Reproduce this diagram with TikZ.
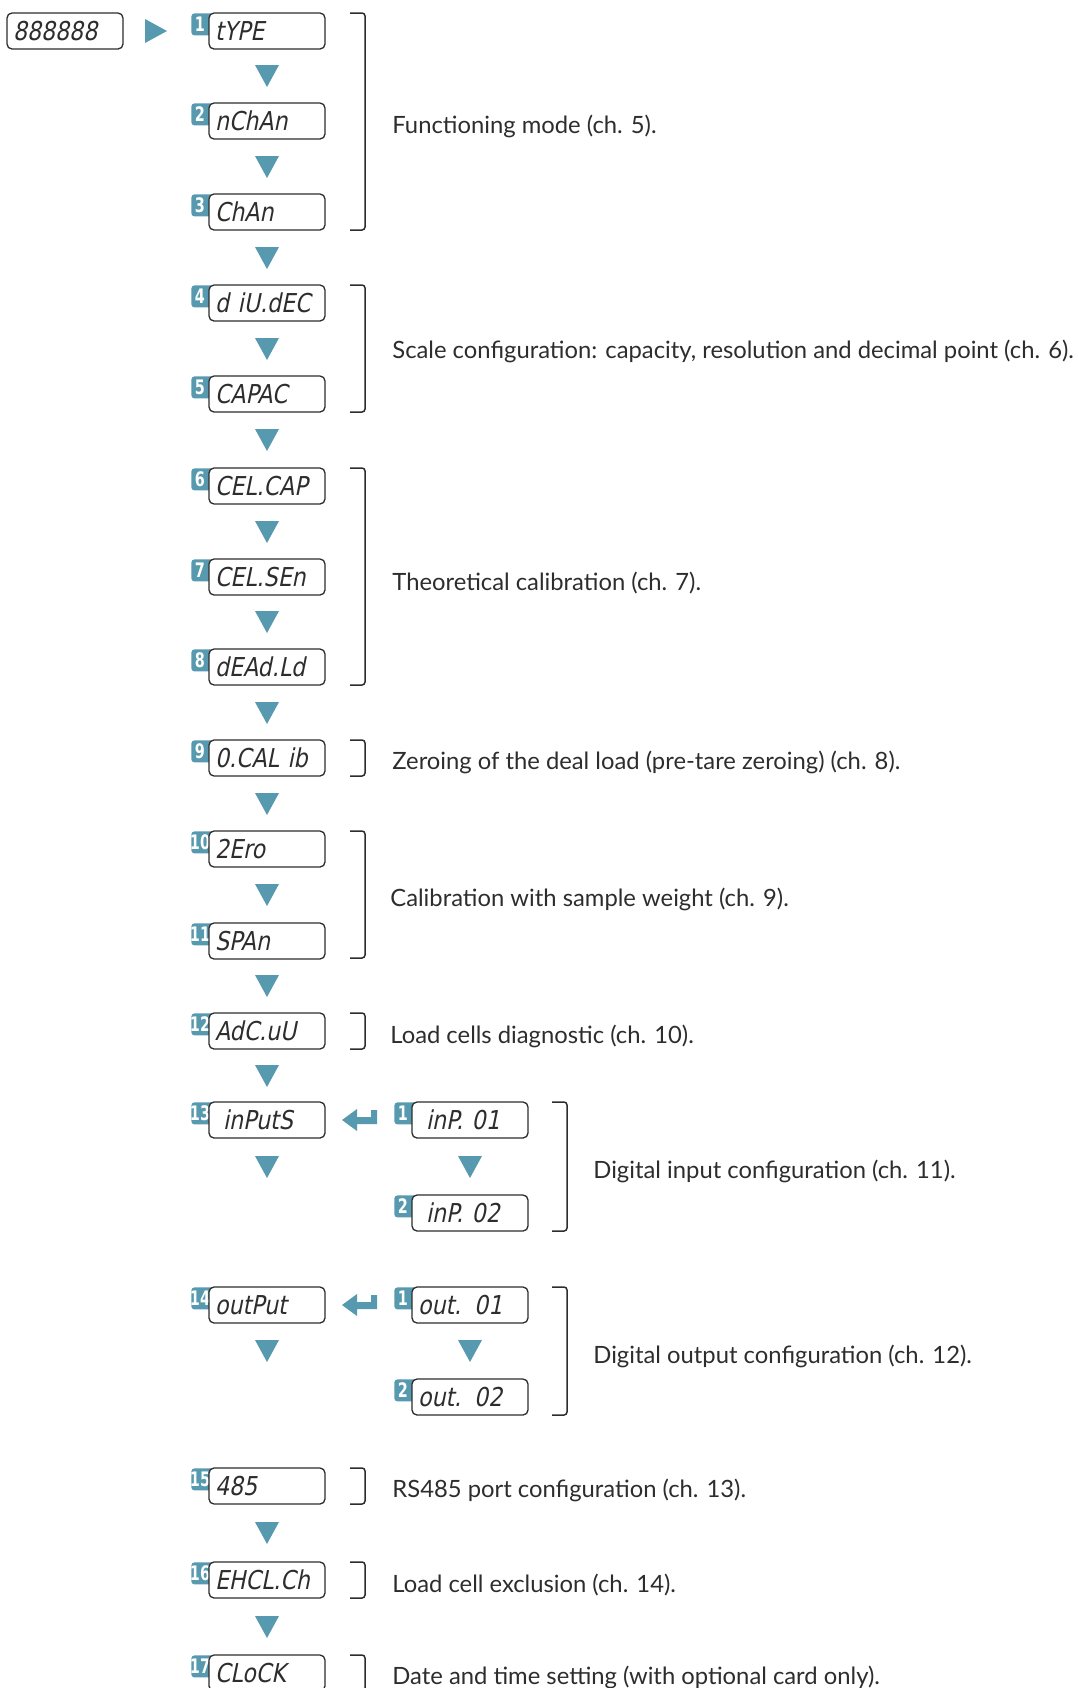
\documentclass[tikz,border=0pt]{standalone}
\usepackage{fontspec}
\setmainfont{Lato}
\newfontfamily\lcdfont[FakeSlant=0.2,FakeStretch=0.85]{DejaVu Sans}
\newfontfamily\tagfont[FakeStretch=0.72]{DejaVu Sans}
\usetikzlibrary{positioning}

\definecolor{lcdblue}{RGB}{87,154,176}
\definecolor{inkgray}{RGB}{45,45,45}

\begin{document}
\begin{tikzpicture}[x=0.5pt,y=0.5pt,yscale=-1,
  lcd/.style={draw=inkgray,line width=0.65pt,rounded corners=2.5pt,fill=white,minimum height=18pt,text width=52pt,inner xsep=3pt,inner ysep=2pt,text height=9.5pt,text depth=0pt,align=left,text=inkgray,font=\lcdfont\fontsize{13}{13}\selectfont},
  tag/.style={fill=lcdblue,rounded corners=1.5pt,minimum width=11pt,minimum height=11pt,inner sep=0pt,anchor=north west},
  tagnum/.style={text=white,inner sep=0pt,font=\tagfont\bfseries\fontsize{10}{10}\selectfont},
  tri/.style={fill=lcdblue},
  bracket/.style={draw=inkgray,line width=0.75pt,rounded corners=1.5pt},
  note/.style={anchor=base west,inner sep=0pt,text=inkgray,font=\fontsize{11.9}{12}\selectfont}]
\useasboundingbox (0,0) rectangle (1078,1688);

% Display
\node[lcd] (b0) at (65,31) {888888};
\fill[tri] (145,19) -- (167,31) -- (145,43) -- cycle;

% Step 1
\node[tag] (g1) at (191,13) {};
\node[tagnum] (k1) at (200,24) {1};
\node[lcd] (b1) at (267,31) {tYPE};
\fill[tri] (255,65) -- (279,65) -- (267,87) -- cycle;
% Step 2
\node[tag] (g2) at (191,103) {};
\node[tagnum] (k2) at (200,114) {2};
\node[lcd] (b2) at (267,121) {nChAn};
\fill[tri] (255,156) -- (279,156) -- (267,178) -- cycle;
% Step 3
\node[tag] (g3) at (191,194) {};
\node[tagnum] (k3) at (200,205) {3};
\node[lcd] (b3) at (267,212) {ChAn};
\fill[tri] (255,247) -- (279,247) -- (267,269) -- cycle;
% Step 4
\node[tag] (g4) at (191,285) {};
\node[tagnum] (k4) at (200,296) {4};
\node[lcd] (b4) at (267,303) {d iU.dEC};
\fill[tri] (255,338) -- (279,338) -- (267,360) -- cycle;
% Step 5
\node[tag] (g5) at (191,376) {};
\node[tagnum] (k5) at (200,387) {5};
\node[lcd] (b5) at (267,394) {CAPAC};
\fill[tri] (255,429) -- (279,429) -- (267,451) -- cycle;
% Step 6
\node[tag] (g6) at (191,468) {};
\node[tagnum] (k6) at (200,479) {6};
\node[lcd] (b6) at (267,486) {CEL.CAP};
\fill[tri] (255,521) -- (279,521) -- (267,543) -- cycle;
% Step 7
\node[tag] (g7) at (191,559) {};
\node[tagnum] (k7) at (200,570) {7};
\node[lcd] (b7) at (267,577) {CEL.SEn};
\fill[tri] (255,611) -- (279,611) -- (267,633) -- cycle;
% Step 8
\node[tag] (g8) at (191,649) {};
\node[tagnum] (k8) at (200,660) {8};
\node[lcd] (b8) at (267,667) {dEAd.Ld};
\fill[tri] (255,702) -- (279,702) -- (267,724) -- cycle;
% Step 9
\node[tag] (g9) at (191,740) {};
\node[tagnum] (k9) at (200,751) {9};
\node[lcd] (b9) at (267,758) {0.CAL ib};
\fill[tri] (255,793) -- (279,793) -- (267,815) -- cycle;
% Step 10
\node[tag] (g10) at (191,831) {};
\node[tagnum] (k10) at (200,842) {10};
\node[lcd] (b10) at (267,849) {2Ero};
\fill[tri] (255,884) -- (279,884) -- (267,906) -- cycle;
% Step 11
\node[tag] (g11) at (191,923) {};
\node[tagnum] (k11) at (200,934) {11};
\node[lcd] (b11) at (267,941) {SPAn};
\fill[tri] (255,975) -- (279,975) -- (267,997) -- cycle;
% Step 12
\node[tag] (g12) at (191,1013) {};
\node[tagnum] (k12) at (200,1024) {12};
\node[lcd] (b12) at (267,1031) {AdC.uU};
\fill[tri] (255,1065) -- (279,1065) -- (267,1087) -- cycle;
% Step 13
\node[tag] (g13) at (191,1102) {};
\node[tagnum] (k13) at (200,1113) {13};
\node[lcd] (b13) at (267,1120) {\hspace*{4pt}inPutS};
\fill[tri] (255,1156) -- (279,1156) -- (267,1178) -- cycle;
\fill[tri] (342,1120) -- (357,1109) -- (357,1117) -- (371,1117) -- (371,1110) -- (377,1110) -- (377,1124) -- (357,1124) -- (357,1131) -- cycle;
\node[tag] (g131) at (394,1102) {};
\node[tagnum] (k131) at (403,1113) {1};
\node[lcd] (b131) at (470,1120) {\hspace*{4pt}inP. 01};
\fill[tri] (458,1156) -- (482,1156) -- (470,1178) -- cycle;
\node[tag] (g132) at (394,1195) {};
\node[tagnum] (k132) at (403,1206) {2};
\node[lcd] (b132) at (470,1213) {\hspace*{4pt}inP. 02};
% Step 14
\node[tag] (g14) at (191,1287) {};
\node[tagnum] (k14) at (200,1298) {14};
\node[lcd] (b14) at (267,1305) {outPut};
\fill[tri] (255,1340) -- (279,1340) -- (267,1362) -- cycle;
\fill[tri] (342,1305) -- (357,1294) -- (357,1302) -- (371,1302) -- (371,1295) -- (377,1295) -- (377,1309) -- (357,1309) -- (357,1316) -- cycle;
\node[tag] (g141) at (394,1287) {};
\node[tagnum] (k141) at (403,1298) {1};
\node[lcd] (b141) at (470,1305) {out. 01};
\fill[tri] (458,1340) -- (482,1340) -- (470,1362) -- cycle;
\node[tag] (g142) at (394,1379) {};
\node[tagnum] (k142) at (403,1390) {2};
\node[lcd] (b142) at (470,1397) {out. 02};
% Step 15
\node[tag] (g15) at (191,1468) {};
\node[tagnum] (k15) at (200,1479) {15};
\node[lcd] (b15) at (267,1486) {485};
\fill[tri] (255,1522) -- (279,1522) -- (267,1544) -- cycle;
% Step 16
\node[tag] (g16) at (191,1562) {};
\node[tagnum] (k16) at (200,1573) {16};
\node[lcd] (b16) at (267,1580) {EHCL.Ch};
\fill[tri] (255,1616) -- (279,1616) -- (267,1638) -- cycle;
% Step 17
\node[tag] (g17) at (191,1655) {};
\node[tagnum] (k17) at (200,1666) {17};
\node[lcd] (b17) at (267,1673) {CLoCK};

% Brackets
\draw[bracket] (350,13) -- (365,13) -- (365,230) -- (350,230);
\draw[bracket] (350,285) -- (365,285) -- (365,412) -- (350,412);
\draw[bracket] (350,468) -- (365,468) -- (365,685) -- (350,685);
\draw[bracket] (350,740) -- (365,740) -- (365,776) -- (350,776);
\draw[bracket] (350,831) -- (365,831) -- (365,958) -- (350,958);
\draw[bracket] (350,1013) -- (365,1013) -- (365,1049) -- (350,1049);
\draw[bracket] (552,1102) -- (567,1102) -- (567,1231) -- (552,1231);
\draw[bracket] (552,1287) -- (567,1287) -- (567,1415) -- (552,1415);
\draw[bracket] (350,1468) -- (365,1468) -- (365,1504) -- (350,1504);
\draw[bracket] (350,1562) -- (365,1562) -- (365,1598) -- (350,1598);
\draw[bracket] (350,1655) -- (365,1655) -- (365,1691) -- (350,1691);

% Text Node
\node[note] (t1) at (392,133) {Functioning mode (ch. 5).};
\node[note] (t2) at (392,358) {Scale configuration: capacity, resolution and decimal point (ch. 6).};
\node[note] (t3) at (392,590) {Theoretical calibration (ch. 7).};
\node[note] (t4) at (392,769) {Zeroing of the deal load (pre-tare zeroing) (ch. 8).};
\node[note] (t5) at (390,906) {Calibration with sample weight (ch. 9).};
\node[note] (t6) at (390,1043) {Load cells diagnostic (ch. 10).};
\node[note] (t7) at (593,1178) {Digital input configuration (ch. 11).};
\node[note] (t8) at (593,1363) {Digital output configuration (ch. 12).};
\node[note] (t9) at (392,1497) {RS485 port configuration (ch. 13).};
\node[note] (t10) at (392,1592) {Load cell exclusion (ch. 14).};
\node[note] (t11) at (392,1684) {Date and time setting (with optional card only).};

\end{tikzpicture}
\end{document}
